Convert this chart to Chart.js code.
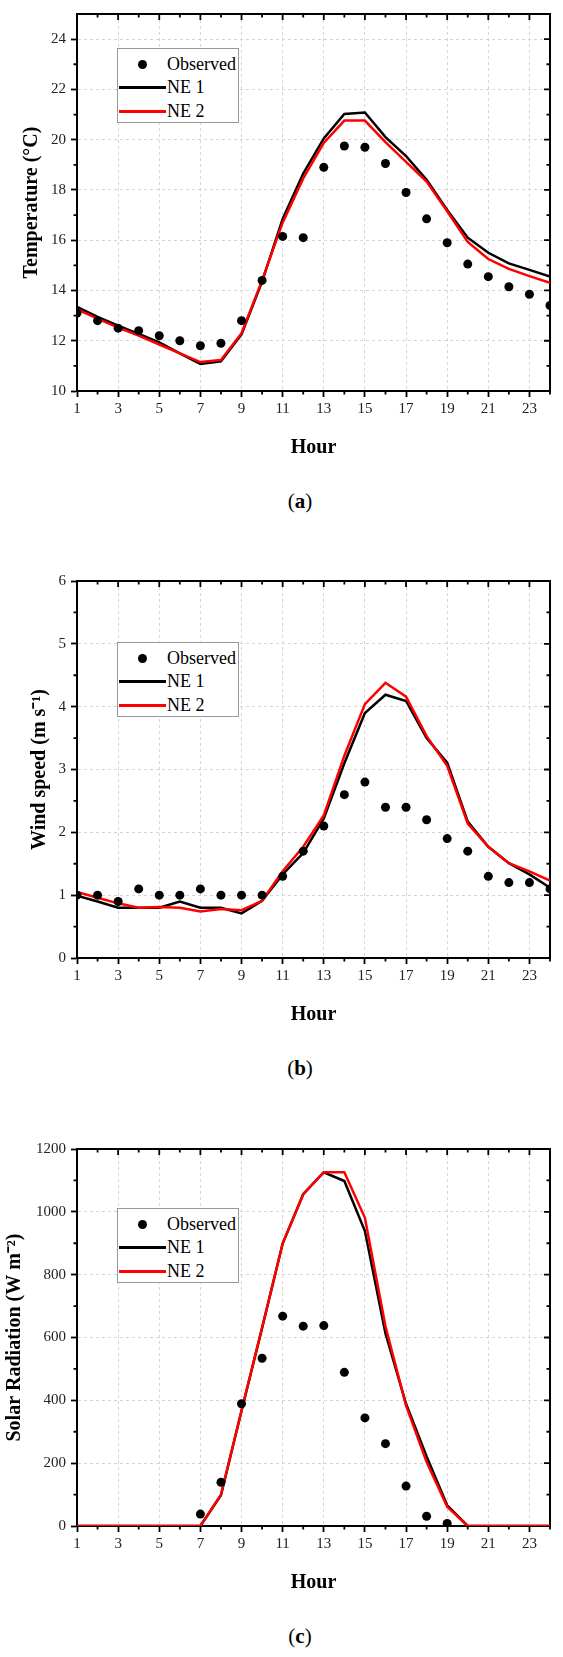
<!DOCTYPE html>
<html>
<head>
<meta charset="utf-8">
<title>Observed vs NE 1 / NE 2</title>
<script src="https://cdn.jsdelivr.net/npm/chart.js@4.4.1/dist/chart.umd.min.js"></script>
<style>
  body { margin: 0; background: #fff; width: 563px; height: 1657px; position: relative;
         font-family: 'Liberation Serif', 'Times New Roman', serif; color: #000; }
  .panel { position: absolute; left: 0; width: 563px; height: 567px; }
  .panel canvas { position: absolute; left: 0; top: 0; }
  .legend { position: absolute; left: 117px; width: 120px; height: 73px; border: 1.5px solid #999;
            font-size: 18px; background: #fff; }
  .legend .item { position: absolute; left: 0; width: 100%; height: 20px; line-height: 20px; }
  .legend .dot { position: absolute; left: 20px; top: 5.5px; width: 9px; height: 9px; border-radius: 50%; }
  .legend .line { position: absolute; left: 1px; top: 8.5px; width: 47px; height: 3px; }
  .legend .label { position: absolute; left: 49px; top: 0; white-space: nowrap; }
  .caption { position: absolute; left: 250px; width: 100px; top: 489px; height: 24px; line-height: 24px;
             text-align: center; font-size: 21px; }
</style>
</head>
<body>

<div class="panel" id="panelA" style="top:0px">
  <canvas id="tempChart" width="563" height="470"></canvas>
  <div class="caption">(<b>a</b>)</div>
</div>
<div class="panel" id="panelB" style="top:567px">
  <canvas id="windChart" width="563" height="470"></canvas>
  <div class="caption">(<b>b</b>)</div>
</div>
<div class="panel" id="panelC" style="top:1135px">
  <canvas id="solarChart" width="563" height="470"></canvas>
  <div class="caption">(<b>c</b>)</div>
</div>

<script>
// data
const hours = [1, 2, 3, 4, 5, 6, 7, 8, 9, 10, 11, 12, 13, 14, 15, 16, 17, 18, 19, 20, 21, 22, 23, 24];
const hourLabels = [1, 3, 5, 7, 9, 11, 13, 15, 17, 19, 21, 23];

const seriesNames = ['Observed', 'NE 1', 'NE 2'];

const tempTicks = [10, 12, 14, 16, 18, 20, 22, 24];
const tempObs = [13.1, 12.8, 12.5, 12.4, 12.2, 12.0, 11.8, 11.9, 12.8, 14.4, 16.15, 16.1,
                 18.9, 19.75, 19.7, 19.05, 17.9, 16.85, 15.9, 15.05, 14.55, 14.15, 13.85, 13.4];
const tempNE1 = [13.35, 12.95, 12.6, 12.27, 11.93, 11.5, 11.08, 11.18, 12.25, 14.35, 16.85, 18.65,
                 20.05, 21.02, 21.08, 20.1, 19.35, 18.4, 17.2, 16.1, 15.5, 15.08, 14.82, 14.55];
const tempNE2 = [13.25, 12.88, 12.52, 12.2, 11.85, 11.5, 11.15, 11.23, 12.3, 14.4, 16.7, 18.46,
                 19.87, 20.76, 20.76, 19.9, 19.12, 18.33, 17.15, 15.93, 15.25, 14.86, 14.57, 14.3];

const windTicks = [0, 1, 2, 3, 4, 5, 6];
const windObs = [1.0, 1.0, 0.9, 1.1, 1.0, 1.0, 1.1, 1.0, 1.0, 1.0, 1.3, 1.7,
                 2.1, 2.6, 2.8, 2.4, 2.4, 2.2, 1.9, 1.7, 1.3, 1.2, 1.2, 1.1];
const windNE1 = [0.99, 0.9, 0.8, 0.8, 0.8, 0.9, 0.8, 0.8, 0.71, 0.91, 1.33, 1.67,
                 2.22, 3.1, 3.9, 4.19, 4.09, 3.5, 3.11, 2.17, 1.77, 1.51, 1.33, 1.12];
const windNE2 = [1.05, 0.96, 0.87, 0.8, 0.81, 0.8, 0.74, 0.78, 0.76, 0.91, 1.38, 1.77,
                 2.27, 3.22, 4.04, 4.38, 4.16, 3.53, 3.06, 2.14, 1.77, 1.51, 1.38, 1.23];

const solarTicks = [0, 200, 400, 600, 800, 1000, 1200];
const solarObs = [null, null, null, null, null, null, 38, 139, 389, 534, 668, 636,
                  638, 489, 344, 262, 127, 31, 8, null, null, null, null, null];
const solarNE1 = [0, 0, 0, 0, 0, 0, 0, 98, 367, 630, 899, 1056,
                  1126, 1098, 939, 613, 389, 221, 66, 0, 0, 0, 0, 0];
const solarNE2 = [0, 0, 0, 0, 0, 0, 0, 100, 367, 632, 899, 1056,
                  1126, 1126, 981, 636, 383, 204, 61, 0, 0, 0, 0, 0];

Chart.defaults.font.family = "'Liberation Serif', 'Times New Roman', serif";

const toPoints = function (values) {
    return hours.map((h, i) => ({x: h, y: values[i]}));
};

const midpoints = function (ticks) {
    let mids = [];
    for (var i = 1; i < ticks.length; i++) {
        mids.push((ticks[i - 1] + ticks[i]) / 2);
    }
    return mids;
};

const minorHours = hours.filter(h => !hourLabels.includes(h));

// closes the frame (top/right) and adds minor + mirrored ticks, Origin style
const frameTicks = {
    id: 'frameTicks',
    beforeDatasetsDraw(chart, args, opts) {
        const {ctx, chartArea: a, scales: {x, y}} = chart;
        const major = 6, minor = 3.5;
        ctx.save();
        ctx.strokeStyle = '#000';
        ctx.lineWidth = 2;
        ctx.beginPath();
        ctx.moveTo(a.left - 1, a.top);
        ctx.lineTo(a.right, a.top);
        ctx.lineTo(a.right, a.bottom + 1);
        ctx.stroke();

        ctx.lineWidth = 1.8;
        ctx.beginPath();
        hourLabels.forEach(v => {
            const px = x.getPixelForValue(v);
            ctx.moveTo(px, a.top); ctx.lineTo(px, a.top + major);
        });
        minorHours.forEach(v => {
            const px = x.getPixelForValue(v);
            ctx.moveTo(px, a.bottom); ctx.lineTo(px, a.bottom + minor);
            ctx.moveTo(px, a.top); ctx.lineTo(px, a.top + minor);
        });
        opts.yTicks.forEach(v => {
            const py = y.getPixelForValue(v);
            ctx.moveTo(a.right, py); ctx.lineTo(a.right - major, py);
        });
        midpoints(opts.yTicks).forEach(v => {
            const py = y.getPixelForValue(v);
            ctx.moveTo(a.left, py); ctx.lineTo(a.left - minor, py);
            ctx.moveTo(a.right, py); ctx.lineTo(a.right - minor, py);
        });
        ctx.stroke();
        ctx.restore();
    }
};

const gridLines = {
    color: '#d6d6d6',
    lineWidth: 1,
    tickLength: 6,
    tickColor: '#000',
    tickWidth: 1.8,
    tickBorderDash: []
};

const panelChart = function (element, yTitle, titleOffset, yMin, yMax, yTicks, obs, ne1, ne2) {
    return new Chart(element, {
        type: 'line',
        data: {
            datasets: [{
                    label: seriesNames[0],
                    data: toPoints(obs),
                    showLine: false,
                    pointRadius: 4.5,
                    pointBackgroundColor: '#000',
                    pointBorderWidth: 0,
                    order: 0
                }, {
                    label: seriesNames[2],
                    data: toPoints(ne2),
                    borderColor: '#ff0000',
                    borderWidth: 2.5,
                    pointRadius: 0,
                    order: 1
                }, {
                    label: seriesNames[1],
                    data: toPoints(ne1),
                    borderColor: '#000',
                    borderWidth: 2.5,
                    pointRadius: 0,
                    order: 2
                }]
        },
        options: {
            responsive: false,
            animation: false,
            events: [],
            layout: { padding: { left: 0, top: 10, right: 13, bottom: 10 } },
            plugins: {
                legend: { display: false },
                tooltip: { enabled: false },
                frameTicks: { yTicks: yTicks }
            },
            scales: {
                x: {
                    type: 'linear',
                    min: 1,
                    max: 24,
                    afterBuildTicks: (scale) => { scale.ticks = hourLabels.map(v => ({value: v})); },
                    ticks: { padding: 3, font: { size: 15 }, color: '#222', maxRotation: 0, callback: v => String(v) },
                    grid: gridLines,
                    border: { color: '#000', width: 2, dash: [3, 3] },
                    title: { display: true, text: 'Hour', color: '#000', font: { size: 20, weight: 'bold' },
                             padding: { top: 15, bottom: 0 } }
                },
                y: {
                    min: yMin,
                    max: yMax,
                    afterBuildTicks: (scale) => { scale.ticks = yTicks.map(v => ({value: v})); },
                    afterFit: (scale) => { scale.width = 77; },
                    ticks: { padding: 5, font: { size: 15 }, color: '#222', callback: v => String(v) },
                    grid: gridLines,
                    border: { color: '#000', width: 2, dash: [3, 3] },
                    title: { display: true, text: yTitle, color: '#000', font: { size: 20, weight: 'bold' },
                             padding: { top: titleOffset, bottom: 0 } }
                }
            }
        },
        plugins: [frameTicks]
    });
};

// legend box inside each plot
const addLegend = function (panel, top) {
    const box = document.createElement('div');
    box.className = 'legend';
    box.style.top = top + 'px';
    const swatches = [
        '<span class="dot" style="background:#000"></span>',
        '<span class="line" style="background:#000"></span>',
        '<span class="line" style="background:#ff0000"></span>'
    ];
    const rows = [5, 28, 52];
    seriesNames.forEach((name, i) => {
        const item = document.createElement('div');
        item.className = 'item';
        item.style.top = rows[i] + 'px';
        item.innerHTML = swatches[i] + '<span class="label">' + name + '</span>';
        box.appendChild(item);
    });
    document.getElementById(panel).appendChild(box);
};

const tempChart = panelChart(document.getElementById('tempChart'), 'Temperature (°C)', 20,
                             10, 25, tempTicks, tempObs, tempNE1, tempNE2);
const windChart = panelChart(document.getElementById('windChart'), 'Wind speed (m s\u207B\u00B9)', 28,
                             0, 6, windTicks, windObs, windNE1, windNE2);
const solarChart = panelChart(document.getElementById('solarChart'), 'Solar Radiation (W m\u207B\u00B2)', 3,
                              0, 1200, solarTicks, solarObs, solarNE1, solarNE2);

addLegend('panelA', 48);
addLegend('panelB', 75);
addLegend('panelC', 73);
</script>
</body>
</html>
